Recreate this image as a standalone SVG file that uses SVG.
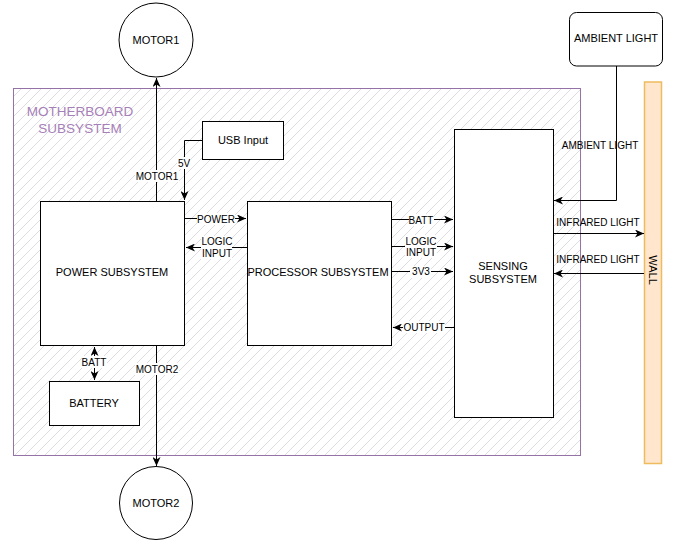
<svg xmlns="http://www.w3.org/2000/svg" width="679" height="544" viewBox="0 0 679 544">
<style>
text{font-family:"Liberation Sans",Arial,Helvetica,sans-serif;fill:#000;text-anchor:middle;dominant-baseline:central}
.node{font-size:11px}
.lbl{font-size:10px}
.box{fill:#fff;stroke:#000;stroke-width:1}
.edge{fill:none;stroke:#000;stroke-width:1}
.bg{fill:#fff}
</style>
<defs>
<pattern id="hatch" patternUnits="userSpaceOnUse" width="10" height="10">
<path d="M-2,2 L2,-2 M0,10 L10,0 M8,12 L12,8" stroke="#dedbe3" stroke-width="1"/>
</pattern>
<marker id="arr" markerUnits="userSpaceOnUse" markerWidth="10" markerHeight="8" refX="9" refY="4" orient="auto-start-reverse" viewBox="0 0 10 8">
<path d="M0,0 L9,4 L0,8 L2.5,4 Z" fill="#000"/>
</marker>
</defs>

<g id="motherboard">
<rect x="13.5" y="88.5" width="567" height="367" fill="#fff" stroke="none"/>
<rect x="13.5" y="88.5" width="567" height="367" fill="url(#hatch)" stroke="#9673a6" stroke-width="1"/>
<text x="80" y="111" style="font-size:13.5px;fill:#a680b8">MOTHERBOARD</text>
<text x="80" y="128" style="font-size:13.5px;fill:#a680b8">SUBSYSTEM</text>
</g>

<g id="wall">
<rect x="644.5" y="82" width="17" height="381.5" fill="#ffe6cc" stroke="#eebc5e" stroke-width="1.5"/>
<text class="node" x="653" y="270" transform="rotate(90 653 270)">WALL</text>
</g>

<g id="motor1">
<circle cx="156" cy="40" r="37" class="box"/>
<text class="node" x="156" y="40">MOTOR1</text>
</g>

<g id="motor2">
<circle cx="156" cy="503" r="36.5" class="box"/>
<text class="node" x="156" y="503">MOTOR2</text>
</g>

<g id="usb">
<rect x="202.5" y="121.5" width="81" height="38" class="box"/>
<text class="node" x="243" y="140">USB Input</text>
</g>

<g id="ambient">
<rect x="569.5" y="12.5" width="93" height="53.5" rx="7" class="box"/>
<text class="node" x="616" y="38">AMBIENT LIGHT</text>
</g>

<g id="power">
<rect x="40.5" y="201.5" width="144" height="144" class="box"/>
<text class="node" x="112" y="272">POWER SUBSYSTEM</text>
</g>

<g id="processor">
<rect x="247.5" y="201.5" width="144" height="144" class="box"/>
<text class="node" x="318" y="272">PROCESSOR SUBSYSTEM</text>
</g>

<g id="sensing">
<rect x="454.5" y="129.5" width="99" height="288" class="box"/>
<text class="node" x="503" y="266">SENSING</text>
<text class="node" x="503" y="279">SUBSYSTEM</text>
</g>

<g id="battery">
<rect x="49.5" y="381.5" width="90" height="44" class="box"/>
<text class="node" x="94" y="403">BATTERY</text>
</g>

<g id="connectors">
<path class="edge" d="M156.5,201 L156.5,78" marker-end="url(#arr)"/>
<rect class="bg" x="135" y="170" width="44" height="12"/>
<text class="lbl" x="157" y="176">MOTOR1</text>

<path class="edge" d="M202,140.5 L184.5,140.5 L184.5,200" marker-end="url(#arr)"/>
<rect class="bg" x="177" y="157" width="14" height="12"/>
<text class="lbl" x="184" y="163">5V</text>

<path class="edge" d="M156.5,346 L156.5,466" marker-end="url(#arr)"/>
<rect class="bg" x="135" y="363" width="44" height="12"/>
<text class="lbl" x="157" y="369">MOTOR2</text>

<path class="edge" d="M94.5,347 L94.5,380" marker-start="url(#arr)" marker-end="url(#arr)"/>
<rect class="bg" x="82" y="356" width="25" height="12"/>
<text class="lbl" x="94" y="362">BATT</text>

<path class="edge" d="M185,218.5 L246,218.5" marker-end="url(#arr)"/>
<rect class="bg" x="197" y="213" width="38" height="12"/>
<text class="lbl" x="216" y="219">POWER</text>

<path class="edge" d="M247,247.5 L186,247.5" marker-end="url(#arr)"/>
<rect class="bg" x="201" y="236" width="31" height="23"/>
<text class="lbl" x="217" y="241">LOGIC</text>
<text class="lbl" x="217" y="253">INPUT</text>

<path class="edge" d="M392,219.5 L453,219.5" marker-end="url(#arr)"/>
<rect class="bg" x="409" y="214" width="25" height="12"/>
<text class="lbl" x="421" y="220">BATT</text>

<path class="edge" d="M392,246.5 L453,246.5" marker-end="url(#arr)"/>
<rect class="bg" x="405" y="235" width="32" height="23"/>
<text class="lbl" x="421" y="241">LOGIC</text>
<text class="lbl" x="421" y="252">INPUT</text>

<path class="edge" d="M392,271.5 L453,271.5" marker-end="url(#arr)"/>
<rect class="bg" x="410" y="266" width="21" height="12"/>
<text class="lbl" x="421" y="271">3V3</text>

<path class="edge" d="M454,327.5 L393,327.5" marker-end="url(#arr)"/>
<rect class="bg" x="403" y="321" width="42" height="12"/>
<text class="lbl" x="424" y="327">OUTPUT</text>

<path class="edge" d="M616.5,66 L616.5,200.5 L554,200.5" marker-end="url(#arr)"/>
<text class="lbl" x="600" y="145">AMBIENT LIGHT</text>

<path class="edge" d="M554,233.5 L644,233.5" marker-end="url(#arr)"/>
<text class="lbl" x="598" y="222">INFRARED LIGHT</text>

<path class="edge" d="M644,273.5 L554,273.5" marker-end="url(#arr)"/>
<text class="lbl" x="598" y="259">INFRARED LIGHT</text>
</g>
</svg>
